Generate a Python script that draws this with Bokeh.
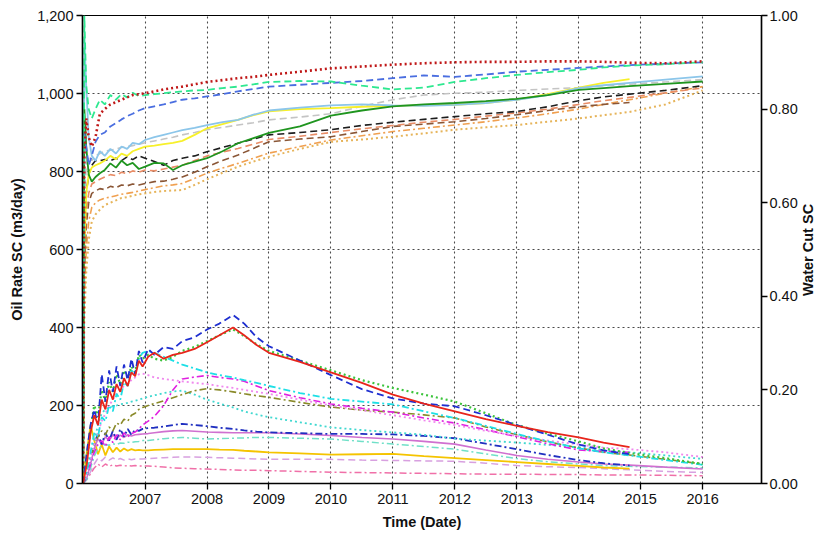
import math
from bokeh.plotting import figure
from bokeh.models import Range1d, LinearAxis, FixedTicker, NumeralTickFormatter
from bokeh.embed import file_html
from bokeh.resources import INLINE

# ---------------- data ----------------
year_ticks = [2007, 2008, 2009, 2010, 2011, 2012, 2013, 2014, 2015, 2016]
oil_ticks = [0, 200, 400, 600, 800, 1000, 1200]
wc_ticks = [0.0, 0.2, 0.4, 0.6, 0.8, 1.0]

# time (decimal years) for oil-rate series
t_oil = [2006.00, 2006.06, 2006.12, 2006.18, 2006.24, 2006.30, 2006.36, 2006.42,
         2006.48, 2006.54, 2006.60, 2006.66, 2006.72, 2006.78, 2006.84, 2006.90,
         2006.96, 2007.05, 2007.15, 2007.30, 2007.45, 2007.60, 2007.80, 2008.00,
         2008.20, 2008.42, 2008.60, 2008.80, 2009.00, 2009.50, 2010.00, 2010.50,
         2011.00, 2011.50, 2012.00, 2012.50, 2013.00, 2013.50, 2014.00, 2014.40,
         2014.82, 2015.40, 2016.00]

# oil rate SC (m3/day)
oil_blue_dash = [0, 80, 150, 190, 150, 280, 210, 290, 235, 300, 250, 305, 265, 320, 280, 340,
                 310, 345, 330, 350, 345, 365, 375, 395, 410, 432, 410, 375, 352, 315, 278, 242,
                 218, 205, 198, 175, 150, 125, 100, 85, 75]
oil_red = [0, 50, 130, 175, 150, 215, 190, 240, 215, 255, 235, 270, 250, 285, 275, 315,
           300, 325, 335, 320, 330, 335, 345, 362, 380, 400, 380, 355, 335, 312, 285, 258,
           228, 205, 185, 165, 148, 132, 118, 105, 93]
oil_green_dot = [0, 60, 140, 200, 170, 240, 210, 260, 235, 280, 255, 290, 270, 300, 285, 330,
                 320, 330, 320, 315, 325, 340, 350, 365, 380, 395, 378, 357, 340, 315, 290, 265,
                 245, 228, 210, 180, 150, 128, 108, 90, 78, 65, 50]
oil_cyan_dashdot = [0, 30, 80, 130, 120, 170, 160, 200, 185, 230, 215, 260, 250, 290, 280, 320,
                    335, 340, 335, 325, 315, 305, 295, 285, 278, 272, 265, 258, 250, 232, 217, 210,
                    203, 185, 168, 148, 127, 108, 90, 80, 72, 60, 48]
oil_magenta_dot = [0, 20, 60, 100, 130, 160, 180, 200, 215, 230, 240, 250, 258, 265, 272, 280,
                   282, 278, 272, 268, 265, 262, 258, 255, 250, 245, 240, 235, 230, 215, 200, 188,
                   175, 162, 150, 135, 122, 110, 100, 92, 88, 80, 68]
oil_magenta_dashdot = [0, 20, 50, 80, 100, 110, 95, 120, 105, 125, 112, 130, 120, 128, 132, 140,
                       150, 160, 172, 200, 240, 268, 273, 277, 272, 268, 262, 250, 238, 220, 204, 193,
                       183, 168, 155, 138, 120, 102, 86, 82, 80]
oil_olive_dashdot = [0, 20, 60, 100, 120, 135, 125, 145, 135, 155, 150, 165, 160, 175, 180, 190,
                     195, 200, 205, 212, 220, 228, 238, 243, 240, 235, 230, 225, 221, 208, 196, 188,
                     183, 176, 168, 145, 125, 107, 91, 80, 73, 62, 50]
oil_cyan_dot = [0, 15, 50, 110, 150, 180, 190, 195, 198, 200, 203, 205, 207, 210, 212, 215,
                218, 222, 226, 232, 236, 238, 228, 215, 205, 195, 185, 177, 170, 157, 144, 137,
                131, 125, 115, 110, 105, 99, 93, 86, 80, 72, 63]
oil_navy_dashdot = [0, 20, 60, 100, 130, 100, 130, 110, 135, 112, 140, 120, 140, 125, 138, 135,
                    140, 142, 143, 146, 150, 153, 150, 147, 143, 140, 136, 133, 131, 129, 127, 127,
                    126, 122, 116, 102, 88, 73, 60, 52, 46]
oil_violet = [0, 15, 50, 90, 115, 100, 120, 110, 125, 115, 124, 118, 125, 122, 125, 126,
              127, 128, 130, 133, 135, 136, 134, 132, 131, 130, 130, 130, 130, 127, 123, 118,
              114, 108, 101, 86, 72, 62, 55, 50, 47, 42, 37]
oil_aqua_dashdot = [0, 10, 40, 70, 90, 95, 100, 98, 102, 100, 104, 103, 106, 105, 107, 108,
                    110, 110, 112, 115, 117, 118, 116, 114, 115, 116, 117, 118, 118, 116, 114, 108,
                    101, 95, 88, 76, 64, 56, 50, 46, 44, 42, 40]
oil_gold = [0, 80, 150, 110, 75, 100, 72, 95, 80, 92, 82, 90, 84, 88, 85, 86,
            85, 85, 86, 87, 88, 88, 88, 88, 87, 86, 84, 82, 80, 77, 74, 75,
            76, 70, 65, 60, 55, 50, 45, 41, 38]
oil_plum_dash = [0, 10, 30, 50, 65, 58, 68, 60, 66, 60, 64, 60, 63, 61, 63, 63,
                 63, 64, 65, 66, 67, 68, 68, 67, 66, 65, 64, 63, 62, 62, 62, 60,
                 59, 58, 57, 52, 46, 43, 41, 38, 35, 31, 28]
oil_pink_dashdot = [0, 10, 25, 40, 50, 42, 50, 44, 48, 45, 47, 45, 46, 45, 46, 45,
                    45, 45, 44, 42, 40, 39, 38, 37, 36, 35, 34, 34, 33, 31, 29, 28,
                    27, 26, 25, 24, 24, 23, 23, 22, 22, 21, 20]

# time (decimal years) for water-cut series
t_wc = [2006.00, 2006.02, 2006.05, 2006.09, 2006.14, 2006.20, 2006.27, 2006.35, 2006.44,
        2006.53, 2006.62, 2006.71, 2006.80, 2006.90, 2007.00, 2007.15, 2007.30, 2007.45,
        2007.60, 2007.80, 2008.00, 2008.25, 2008.50, 2008.75, 2009.00, 2009.50, 2010.00,
        2010.50, 2011.00, 2011.50, 2012.00, 2012.50, 2013.00, 2013.50, 2014.00, 2014.40,
        2014.82, 2015.40, 2016.00]

# water cut SC (fraction)
wc_red_dot = [0, 0.70, 0.78, 0.74, 0.72, 0.74, 0.79, 0.80, 0.81, 0.815, 0.82, 0.825, 0.83,
              0.832, 0.834, 0.838, 0.842, 0.845, 0.848, 0.853, 0.858, 0.862, 0.866, 0.869,
              0.873, 0.88, 0.887, 0.891, 0.895, 0.898, 0.90, 0.901, 0.901, 0.902, 0.902,
              0.901, 0.899, 0.898, 0.902]
wc_green_dash = [0, 1.0, 0.85, 0.80, 0.78, 0.80, 0.82, 0.81, 0.83, 0.82, 0.832, 0.825, 0.835,
                 0.828, 0.83, 0.832, 0.834, 0.836, 0.838, 0.84, 0.841, 0.845, 0.848, 0.853,
                 0.858, 0.86, 0.859, 0.85, 0.842, 0.846, 0.858, 0.866, 0.873, 0.879, 0.884,
                 0.889, 0.893, 0.896, 0.90]
wc_blue_dash = [0, 0.75, 0.72, 0.68, 0.70, 0.73, 0.745, 0.75, 0.763, 0.77, 0.778, 0.785, 0.79,
                0.797, 0.802, 0.806, 0.81, 0.815, 0.82, 0.823, 0.827, 0.832, 0.838, 0.843,
                0.848, 0.852, 0.856, 0.86, 0.866, 0.872, 0.869, 0.874, 0.88, 0.884, 0.888,
                0.891, 0.894, 0.897, 0.90]
wc_lightblue = [0, 0.95, 0.85, 0.74, 0.70, 0.69, 0.71, 0.70, 0.715, 0.705, 0.72, 0.715, 0.728,
                0.725, 0.734, 0.74, 0.745, 0.75, 0.755, 0.76, 0.766, 0.772, 0.777, 0.788,
                0.797, 0.803, 0.808, 0.81, 0.808, 0.807, 0.809, 0.813, 0.82, 0.83, 0.845,
                0.851, 0.856, 0.863, 0.87]
wc_yellow = [0, 0.5, 0.62, 0.66, 0.675, 0.68, 0.684, 0.69, 0.70, 0.693, 0.705, 0.70, 0.71,
             0.715, 0.72, 0.722, 0.725, 0.728, 0.732, 0.745, 0.759, 0.768, 0.777, 0.787,
             0.795, 0.80, 0.802, 0.805, 0.807, 0.808, 0.809, 0.813, 0.82, 0.832, 0.846,
             0.856, 0.864]
wc_silver_dash = [0, 0.6, 0.68, 0.70, 0.69, 0.70, 0.705, 0.71, 0.712, 0.715, 0.718, 0.72, 0.722,
                  0.725, 0.728, 0.732, 0.736, 0.74, 0.745, 0.75, 0.756, 0.761, 0.766, 0.771,
                  0.777, 0.783, 0.79, 0.806, 0.82, 0.83, 0.834, 0.836, 0.84, 0.843, 0.846,
                  0.85, 0.853, 0.858, 0.863]
wc_green = [0, 0.80, 0.72, 0.66, 0.645, 0.655, 0.663, 0.67, 0.684, 0.675, 0.69, 0.68, 0.685,
            0.672, 0.677, 0.685, 0.684, 0.67, 0.68, 0.688, 0.695, 0.71, 0.727, 0.738,
            0.749, 0.763, 0.786, 0.797, 0.806, 0.81, 0.813, 0.817, 0.822, 0.83, 0.841,
            0.845, 0.849, 0.854, 0.859]
wc_black_dash = [0, 0.5, 0.62, 0.66, 0.68, 0.69, 0.69, 0.692, 0.69, 0.695, 0.69, 0.698, 0.692,
                 0.70, 0.695, 0.688, 0.68, 0.69, 0.695, 0.70, 0.709, 0.718, 0.727, 0.736,
                 0.745, 0.75, 0.756, 0.765, 0.772, 0.778, 0.784, 0.79, 0.795, 0.805, 0.818,
                 0.826, 0.832, 0.84, 0.85]
wc_salmon_dash = [0, 0.5, 0.58, 0.62, 0.64, 0.645, 0.65, 0.655, 0.66, 0.658, 0.665, 0.662, 0.668,
                  0.665, 0.67, 0.668, 0.672, 0.676, 0.68, 0.69, 0.70, 0.708, 0.716, 0.725,
                  0.735, 0.742, 0.75, 0.758, 0.765, 0.772, 0.778, 0.785, 0.792, 0.80, 0.81,
                  0.818, 0.825, 0.835, 0.845]
wc_brown_dash = [0, 0.45, 0.55, 0.60, 0.62, 0.625, 0.63, 0.628, 0.635, 0.632, 0.638, 0.636, 0.64,
                 0.638, 0.641, 0.645, 0.646, 0.65, 0.655, 0.665, 0.677, 0.69, 0.702, 0.716,
                 0.73, 0.736, 0.741, 0.752, 0.763, 0.768, 0.773, 0.78, 0.788, 0.797, 0.805,
                 0.81, 0.814]
wc_sandy_dashdot = [0, 0.4, 0.5, 0.56, 0.59, 0.60, 0.606, 0.61, 0.612, 0.615, 0.618, 0.62, 0.622,
                    0.625, 0.628, 0.632, 0.636, 0.638, 0.641, 0.652, 0.663, 0.674, 0.684, 0.695,
                    0.706, 0.72, 0.734, 0.743, 0.752, 0.759, 0.766, 0.773, 0.781, 0.79, 0.80,
                    0.81, 0.82, 0.834, 0.848]
wc_tan_dot = [0, 0.35, 0.45, 0.52, 0.56, 0.575, 0.585, 0.595, 0.60, 0.605, 0.61, 0.612, 0.615,
              0.618, 0.62, 0.623, 0.625, 0.626, 0.627, 0.638, 0.65, 0.664, 0.677, 0.688,
              0.698, 0.715, 0.73, 0.735, 0.741, 0.748, 0.756, 0.761, 0.766, 0.773, 0.78,
              0.787, 0.794, 0.81, 0.84]

# ---------------- styles ----------------
DASH = "7 4"
DOT = "2 3"
DASHDOT = "7 3 2 3"

wc_styles = [
    (wc_tan_dot, "#e6b45a", DOT, 2.0),
    (wc_sandy_dashdot, "#f0a050", DASHDOT, 1.6),
    (wc_brown_dash, "#8a5636", DASH, 1.6),
    (wc_salmon_dash, "#e88c66", DASH, 1.6),
    (wc_black_dash, "#1e1e1e", DASH, 1.6),
    (wc_silver_dash, "#c4c4c4", DASH, 1.6),
    (wc_yellow, "#f7f02a", "solid", 1.8),
    (wc_lightblue, "#8cc6ea", "solid", 1.8),
    (wc_green, "#1f951f", "solid", 1.8),
    (wc_blue_dash, "#4a6ee0", DASH, 1.8),
    (wc_green_dash, "#2ee890", DASH, 1.8),
    (wc_red_dot, "#c01818", DOT, 2.6),
]

oil_styles = [
    (oil_pink_dashdot, "#f070a8", DASHDOT, 1.5),
    (oil_plum_dash, "#d8a0e0", DASH, 1.5),
    (oil_gold, "#f5c400", "solid", 1.8),
    (oil_aqua_dashdot, "#70e0c8", DASHDOT, 1.5),
    (oil_violet, "#d070d0", "solid", 1.6),
    (oil_navy_dashdot, "#2030c0", DASHDOT, 1.8),
    (oil_cyan_dot, "#40d8d0", DOT, 1.8),
    (oil_olive_dashdot, "#8a8a2a", DASHDOT, 1.6),
    (oil_magenta_dashdot, "#e020e0", DASHDOT, 1.6),
    (oil_magenta_dot, "#f088ee", DOT, 1.8),
    (oil_cyan_dashdot, "#1edfe6", DASHDOT, 1.8),
    (oil_green_dot, "#3cc43c", DOT, 2.2),
    (oil_blue_dash, "#1f2fd0", DASH, 1.8),
    (oil_red, "#e8251b", "solid", 1.8),
]

FONT = "Liberation Sans"
TICK_SIZE = "14.5px"
LABEL_SIZE = "14.5px"
WC_TITLE = "Water Cut SC"

p = figure(width=826, height=539, output_backend="svg", toolbar_location=None,
           x_range=Range1d(2005.99, 2016.95), y_range=Range1d(0, 1200),
           min_border_left=82, min_border_right=64, min_border_top=15, min_border_bottom=56)
p.extra_y_ranges = {"wc": Range1d(0, 1)}
p.background_fill_color = "white"
p.border_fill_color = "white"
p.outline_line_color = "black"
p.outline_line_width = 1.2

# grids
p.xgrid.ticker = FixedTicker(ticks=year_ticks)
p.ygrid.ticker = FixedTicker(ticks=oil_ticks)
for g in (p.xgrid, p.ygrid):
    g.grid_line_color = "#4a4a4a"
    g.grid_line_dash = "2 3"
    g.grid_line_width = 1.1

# axes
xa = p.xaxis[0]
xa.ticker = FixedTicker(ticks=year_ticks)
xa.formatter = NumeralTickFormatter(format="0")
xa.axis_label = "Time (Date)"
xa.axis_label_standoff = 7
xa.major_label_standoff = 4

ya = p.yaxis[0]
ya.ticker = FixedTicker(ticks=oil_ticks)
ya.formatter = NumeralTickFormatter(format="0,0")
ya.axis_label = "Oil Rate SC (m3/day)"
ya.axis_label_standoff = 9
ya.major_label_standoff = 3

ra = LinearAxis(y_range_name="wc", ticker=FixedTicker(ticks=wc_ticks),
                formatter=NumeralTickFormatter(format="0.00"))
ra.major_label_standoff = 2
p.add_layout(ra, "right")

for ax in (xa, ya, ra):
    ax.axis_line_color = "black"
    ax.axis_line_width = 1.5
    ax.major_tick_line_color = "black"
    ax.major_tick_line_width = 1.3
    ax.major_tick_out = 6
    ax.major_tick_in = 0
    ax.minor_tick_line_color = None
    ax.major_label_text_font = FONT
    ax.major_label_text_font_size = TICK_SIZE
    ax.major_label_text_color = "#111111"
    ax.axis_label_text_font = FONT
    ax.axis_label_text_font_size = LABEL_SIZE
    ax.axis_label_text_font_style = "bold"
    ax.axis_label_text_color = "#111111"

# right-hand title (reads bottom-to-top): drawn as the single label of a bare axis,
# anchored half its length below the middle of the frame so that it is centred.
title_len_px = 93
frame_h_px = 539 - 15 - 56
title_anchor = 0.5 - (title_len_px / 2) / frame_h_px
ta = LinearAxis(y_range_name="wc", ticker=FixedTicker(ticks=[title_anchor]),
                major_label_overrides={title_anchor: WC_TITLE})
ta.axis_line_color = None
ta.major_tick_line_color = None
ta.major_tick_out = 0
ta.major_tick_in = 0
ta.minor_tick_line_color = None
ta.major_label_orientation = math.pi / 2
ta.major_label_standoff = 7
ta.major_label_text_font = FONT
ta.major_label_text_font_size = LABEL_SIZE
ta.major_label_text_font_style = "bold"
ta.major_label_text_color = "#111111"
p.add_layout(ta, "right")

# lines
for vals, color, dash, w in wc_styles:
    p.line(t_wc[:len(vals)], vals, y_range_name="wc", line_color=color,
           line_dash=dash, line_width=w)
for vals, color, dash, w in oil_styles:
    p.line(t_oil[:len(vals)], vals, line_color=color, line_dash=dash, line_width=w)

open("out.html", "w").write(file_html(p, INLINE))
